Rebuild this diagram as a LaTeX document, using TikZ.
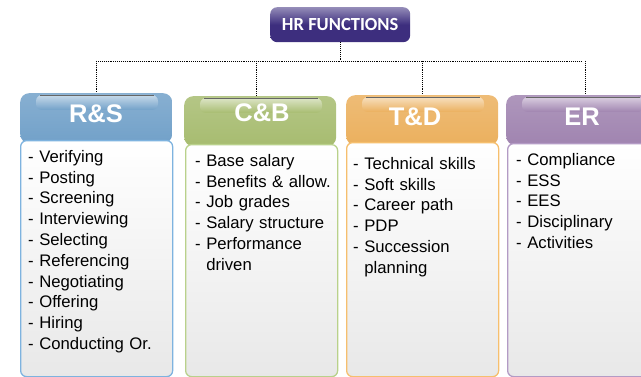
\documentclass[tikz,border=0pt]{standalone}
\usepackage{fontspec}
\setmainfont{Liberation Sans}
\newfontfamily\calfont{Carlito}
\definecolor{hrc}{HTML}{3D2E7E}
\definecolor{rsc}{HTML}{72A1C9}
\definecolor{rsl}{HTML}{7EB3DF}
\definecolor{cbc}{HTML}{A7BC70}
\definecolor{cbl}{HTML}{B9D18B}
\definecolor{tdc}{HTML}{EBB05E}
\definecolor{tdl}{HTML}{F6BF6E}
\definecolor{erc}{HTML}{A084B0}
\definecolor{erl}{HTML}{B39BC5}
\begin{document}
\begin{tikzpicture}[x=1pt,y=-1pt,
  hdr/.style={rectangle, rounded corners=9pt, minimum width=152pt, minimum height=50pt,
    anchor=north west, inner sep=0pt},
  hdrtext/.style={anchor=center, inner sep=0pt, text=white,
    font=\fontsize{25.5}{28}\selectfont\bfseries},
  gloss/.style={rounded corners=6pt},
  body/.style={rectangle, rounded corners=6pt, line width=1.3pt, minimum width=152pt,
    anchor=north west, inner sep=0pt, top color=white, bottom color=black!9},
  items/.style={anchor=north west, inner sep=0pt, text width=140pt, align=left,
    font=\fontsize{16.7}{20.8}\selectfont, text=black},
  conn/.style={draw=black, densely dotted, line width=0.9pt}]
\useasboundingbox (0,0) rectangle (641,377);
\clip (0,0) rectangle (641,377);
% top box
\node[rectangle, rounded corners=7pt, minimum width=140pt, minimum height=35pt, anchor=north west,
  inner sep=0pt, top color=hrc!55!white, bottom color=hrc, middle color=hrc, text=white,
  font=\calfont\bfseries\fontsize{18.5}{20}\selectfont] (hr) at (270,7) {HR FUNCTIONS};
% headers
\node[hdr, top color=rsc!85!white, bottom color=rsc] (rs) at (20,93) {};
\node[hdr, top color=cbc!85!white, bottom color=cbc] (cb) at (184,96) {};
\node[hdr, top color=tdc!85!white, bottom color=tdc] (td) at (346,95) {};
\node[hdr, top color=erc!85!white, bottom color=erc] (er) at (506,95) {};
% gloss bands
\shade[gloss, top color=white!60!rsc, bottom color=rsc] (36,95) rectangle (158,110);
\shade[gloss, top color=white!60!cbc, bottom color=cbc] (200,98) rectangle (322,113);
\shade[gloss, top color=white!60!tdc, bottom color=tdc] (362,97) rectangle (484,112);
\shade[gloss, top color=white!60!erc, bottom color=erc] (522,97) rectangle (644,112);
\draw[black!60, line width=0.5pt] (40,95) -- (154,95) (204,98) -- (318,98) (366,97) -- (480,97) (526,97) -- (640,97);
\node[hdrtext] (rslab) at (96,114) {R\&S};
\node[hdrtext] (cblab) at (262,113) {C\&B};
\node[hdrtext] (tdlab) at (415,117) {T\&D};
\node[hdrtext] (erlab) at (582,117) {ER};
% bodies
\node[body, draw=rsl, minimum height=236pt] (rsb) at (20,140) {};
\node[body, draw=cbl, minimum height=232pt] (cbb) at (185,144) {};
\node[body, draw=tdl, minimum height=234pt] (tdb) at (346,142) {};
\node[body, draw=erl, minimum height=233pt] (erb) at (507,143) {};
% lists
\node[items] (rst) at (28,147.5) {\strut- Verifying\\- Posting\\- Screening\\- Interviewing\\- Selecting\\- Referencing\\- Negotiating\\- Offering\\- Hiring\\- Conducting Or.};
\node[items] (cbt) at (195,151.5) {\strut- Base salary\\- Benefits \& allow.\\- Job grades\\- Salary structure\\- Performance\\\phantom{- }driven};
\node[items] (tdt) at (353,154.5) {\strut- Technical skills\\- Soft skills\\- Career path\\- PDP\\- Succession\\\phantom{- }planning};
\node[items] (ert) at (516,150.5) {\strut- Compliance\\- ESS\\- EES\\- Disciplinary\\- Activities};
% connectors
\coordinate (bus) at (0,61);
\draw[conn] (hr.south) -- (hr.south |- bus);
\draw[conn] (rs.north |- bus) -- (er.north |- bus);
\draw[conn] (rs.north |- bus) -- (rs.north);
\draw[conn] ([xshift=-4pt]cb.north |- bus) -- ([xshift=-4pt]cb.north);
\draw[conn] (td.north |- bus) -- (td.north);
\draw[conn] ([xshift=3pt]er.north |- bus) -- ([xshift=3pt]er.north);
\end{tikzpicture}
\end{document}
